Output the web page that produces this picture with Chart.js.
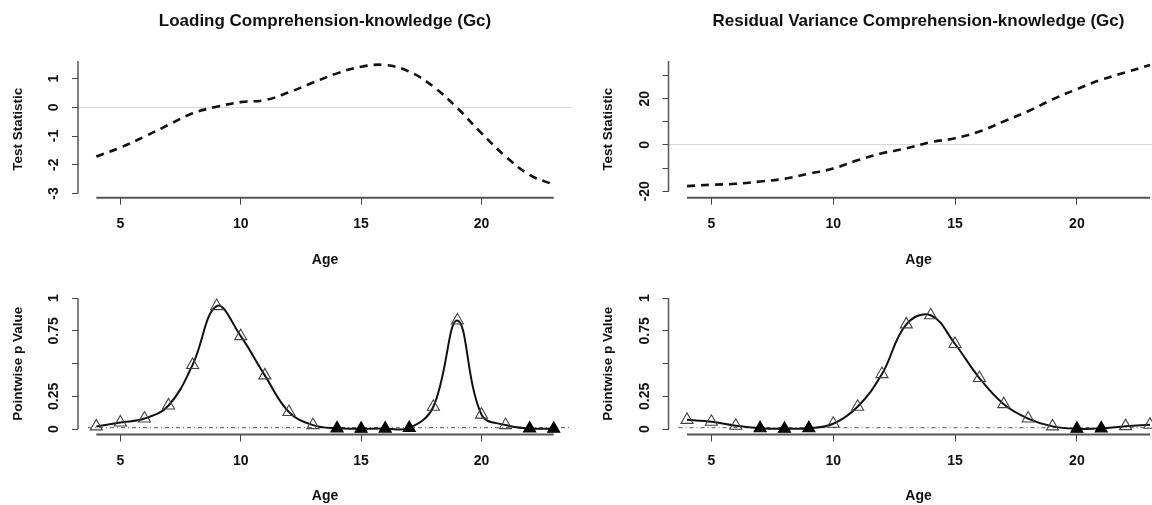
<!DOCTYPE html>
<html><head><meta charset="utf-8">
<script src="https://cdn.jsdelivr.net/npm/chart.js@4.4.1/dist/chart.umd.min.js"></script>
<style>
html,body{margin:0;padding:0;background:#fff;overflow:hidden;width:1152px;height:505px;}
canvas{position:absolute;}
</style></head><body>
<canvas id="c1" width="600" height="272" style="left:0;top:0"></canvas>
<canvas id="c2" width="600" height="272" style="left:590px;top:0"></canvas>
<canvas id="c3" width="600" height="233" style="left:0;top:272px"></canvas>
<canvas id="c4" width="600" height="233" style="left:590px;top:272px"></canvas>
<script>
// ---------- data ----------
const AGES = [4,5,6,7,8,9,10,11,12,13,14,15,16,17,18,19,20,21,22,23];
const LOADING_STAT  = [-1.71,-1.40,-1.02,-0.61,-0.21,0.02,0.18,0.25,0.52,0.86,1.18,1.41,1.47,1.24,0.72,-0.03,-0.90,-1.71,-2.35,-2.69];
const RESIDUAL_STAT = [-17.8,-17.2,-16.8,-15.8,-14.6,-12.4,-10.2,-6.6,-3.6,-1.5,1.2,2.9,5.8,10.2,14.6,19.7,24.1,28.2,31.4,34.6];
const LOADING_P     = [0.02,0.05,0.08,0.18,0.49,0.94,0.71,0.41,0.13,0.03,0.005,0.002,0.003,0.008,0.17,0.83,0.11,0.03,0.004,0.002];
const RESIDUAL_P    = [0.07,0.055,0.025,0.006,0.002,0.006,0.04,0.17,0.42,0.80,0.87,0.65,0.39,0.19,0.08,0.02,0.002,0.005,0.022,0.033];
const ALPHA = 0.01;

const X_TICKS = [5,10,15,20];
const X_LINE = [4,23];
const TL_Y_TICKS = [-3,-2,-1,0,1];
const TL_Y_LABELS = [-3,-2,-1,0,1];
const TR_Y_TICKS = [-20,-10,0,10,20,30];
const TR_Y_LABELS = [-20,0,20];
const P_Y_TICKS = [0,0.25,0.5,0.75,1];
const P_Y_LABELS = [0,0.25,0.75,1];

const TITLE_LEFT = 'Loading Comprehension-knowledge (Gc)';
const TITLE_RIGHT = 'Residual Variance Comprehension-knowledge (Gc)';
const X_TITLE = 'Age';
const Y_TITLE_TOP = 'Test Statistic';
const Y_TITLE_BOTTOM = 'Pointwise p Value';

// ---------- drawing ----------
const FONT = '"Liberation Sans", Arial, Helvetica, sans-serif';
Chart.defaults.font.family = FONT;
Chart.defaults.color = '#111';

const rAxes = {
  id: 'rAxes',
  beforeDatasetsDraw(chart) {
    const o = chart.options.plugins.rAxes;
    if (o.threshold == null) return;
    const {ctx, chartArea, scales:{y}} = chart;
    const py = y.getPixelForValue(o.threshold);
    ctx.save();
    ctx.strokeStyle = '#555'; ctx.lineWidth = 1;
    ctx.setLineDash([4,3,1,3]);
    ctx.beginPath(); ctx.moveTo(chartArea.left + 10, py); ctx.lineTo(chartArea.right, py); ctx.stroke();
    ctx.restore();
  },
  afterDraw(chart) {
    const o = chart.options.plugins.rAxes;
    const {ctx, chartArea, scales:{x, y}} = chart;
    ctx.save();
    ctx.strokeStyle = '#555';
    ctx.lineWidth = 2;
    ctx.beginPath();
    ctx.moveTo(x.getPixelForValue(o.xLine[0]), chartArea.bottom);
    ctx.lineTo(x.getPixelForValue(o.xLine[1]), chartArea.bottom);
    ctx.stroke();
    ctx.lineWidth = 1.5;
    ctx.beginPath();
    ctx.moveTo(chartArea.left, y.getPixelForValue(o.yLine[0]));
    ctx.lineTo(chartArea.left, o.yLine[1] == null ? chartArea.top : y.getPixelForValue(o.yLine[1]));
    ctx.stroke();
    ctx.fillStyle = '#111';
    ctx.font = 'bold 14px ' + FONT;
    ctx.textAlign = 'center';
    ctx.textBaseline = 'alphabetic';
    y.ticks.forEach(t => {
      if (!t.label) return;
      const py = y.getPixelForValue(t.value);
      ctx.save();
      ctx.translate(chartArea.left - o.labelOffset, py);
      ctx.rotate(-Math.PI / 2);
      ctx.fillText(t.label, 0, 0);
      ctx.restore();
    });
    ctx.restore();
  }
};

function makeChart(id, p) {
  const pts = AGES.map((a, i) => ({x: a, y: p.values[i]}));
  const ds = p.points ? {
    data: pts, borderColor: '#111', borderWidth: 2, tension: 0.4,
    pointStyle: 'triangle', pointRadius: 7, pointBorderWidth: 1.1,
    pointBackgroundColor: p.values.map(v => v < ALPHA ? '#000' : 'rgba(0,0,0,0)'),
    pointBorderColor: p.values.map(v => v < ALPHA ? '#000' : '#444')
  } : {
    data: pts, borderColor: '#111', borderWidth: 2.6, borderDash: [8,6], tension: 0.4,
    pointRadius: 0
  };
  return new Chart(document.getElementById(id), {
    type: 'line',
    data: {datasets: [ds]},
    options: {
      responsive: false, animation: false, devicePixelRatio: 1,
      layout: {padding: {top: p.padTop, right: p.padRight, left: 0, bottom: 0}},
      plugins: {
        legend: {display: false}, tooltip: {enabled: false},
        title: p.title ? {display: true, text: p.title, fullSize: false, color: '#111',
          font: {size: 17, weight: 'bold'}, padding: {top: 11, bottom: 29.6}} : {display: false},
        rAxes: {xLine: X_LINE, yLine: p.yLine, labelOffset: 20, threshold: p.threshold}
      },
      scales: {
        x: {
          type: 'linear', min: 3.24, max: 23.76,
          afterBuildTicks: s => { s.ticks = X_TICKS.map(v => ({value: v})); },
          afterFit: s => { s.height = p.xAxisH; },
          ticks: {callback: v => String(v), color: '#111', font: {size: 14, weight: 'bold'}, padding: p.xTickPad, maxRotation: 0},
          grid: {drawOnChartArea: false, drawTicks: true, tickLength: 7, tickColor: '#444', tickWidth: 1},
          border: {display: false},
          title: {display: true, text: X_TITLE, color: '#111', font: {size: 14, weight: 'bold'}, padding: {top: 0, bottom: p.xTitlePad}}
        },
        y: {
          type: 'linear', min: p.yMin, max: p.yMax,
          afterBuildTicks: s => { s.ticks = p.yTicks.map(v => ({value: v})); },
          afterFit: s => { s.width = p.yAxisW; },
          ticks: {display: false, callback: v => p.yLabels.includes(v) ? String(v) : ''},
          grid: {drawOnChartArea: !!p.zeroLine, drawTicks: true, tickLength: 6, tickColor: '#444', tickWidth: 1,
            color: c => (p.zeroLine && c.tick && c.tick.value === 0) ? '#d8d8d8' : 'rgba(0,0,0,0)', lineWidth: 1},
          border: {display: false},
          title: {display: true, text: p.yTitle, color: '#111', font: {size: 13.5, weight: 'bold'}, padding: {top: 10.5, bottom: 0}}
        }
      }
    },
    plugins: [rAxes]
  });
}

makeChart('c1', {values: LOADING_STAT, title: TITLE_LEFT, padTop: 0, padRight: 28, yAxisW: 78,
  xAxisH: 74.3, xTickPad: 11, xTitlePad: 3.6, yMin: -3.144, yMax: 1.61, yTicks: TL_Y_TICKS, yLabels: TL_Y_LABELS,
  yLine: [-3, null], yTitle: Y_TITLE_TOP, zeroLine: true});
makeChart('c2', {values: RESIDUAL_STAT, title: TITLE_RIGHT, padTop: 0, padRight: 21.5, yAxisW: 78.5,
  xAxisH: 74.3, xTickPad: 11, xTitlePad: 3.6, yMin: -22.8, yMax: 36.3, yTicks: TR_Y_TICKS, yLabels: TR_Y_LABELS,
  yLine: [-20, null], yTitle: Y_TITLE_TOP, zeroLine: true});
makeChart('c3', {values: LOADING_P, points: true, padTop: 21, padRight: 28, yAxisW: 78,
  xAxisH: 70.5, xTickPad: 11.5, xTitlePad: 0, yMin: -0.042, yMax: 1.04, yTicks: P_Y_TICKS, yLabels: P_Y_LABELS,
  yLine: [0, 1], yTitle: Y_TITLE_BOTTOM, threshold: ALPHA});
makeChart('c4', {values: RESIDUAL_P, points: true, padTop: 21, padRight: 21.5, yAxisW: 78.5,
  xAxisH: 70.5, xTickPad: 11.5, xTitlePad: 0, yMin: -0.042, yMax: 1.04, yTicks: P_Y_TICKS, yLabels: P_Y_LABELS,
  yLine: [0, 1], yTitle: Y_TITLE_BOTTOM, threshold: ALPHA});
</script>
</body></html>
